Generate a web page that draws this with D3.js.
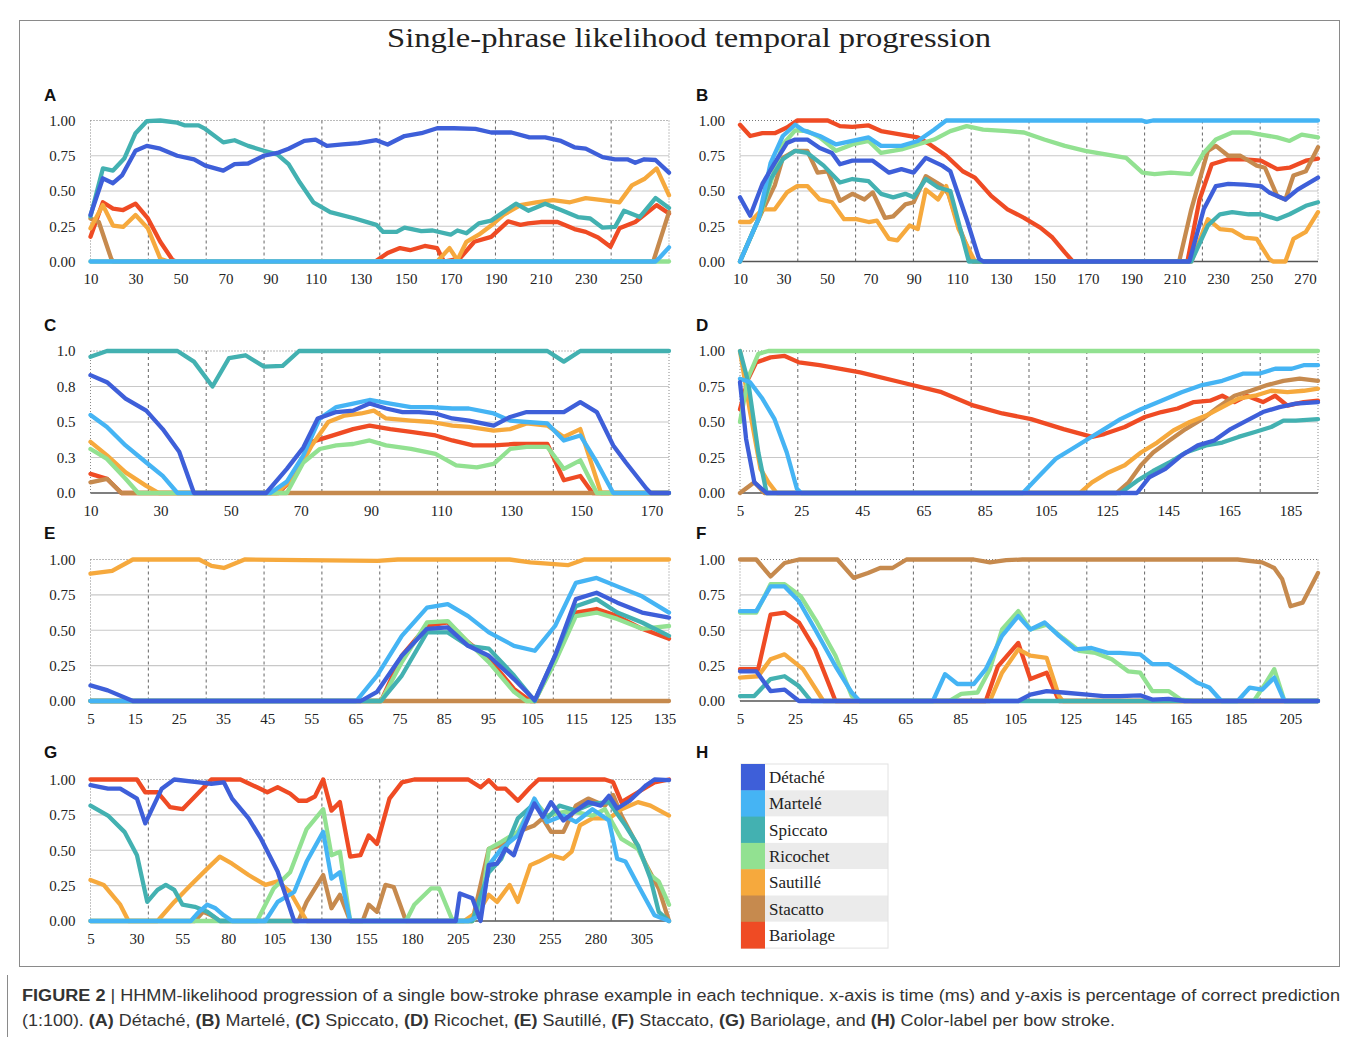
<!DOCTYPE html>
<html>
<head>
<meta charset="utf-8">
<script src="https://cdn.jsdelivr.net/npm/d3@7"></script>
<style>
  body { margin: 0; background: #fff; }
  text { font-family: "Liberation Serif", "Times New Roman", serif; }
</style>
</head>
<body>
<svg id="fig" width="1358" height="1037"></svg>
<script>
const techniques = ["Détaché", "Martelé", "Spiccato", "Ricochet", "Sautillé", "Stacatto", "Bariolage"];
const colors = ["#3e5fd9", "#45b4f4", "#43b1b1", "#92e191", "#f6a93d", "#c68a4e", "#ef4b24"];
const yValues = [0, 0.25, 0.5, 0.75, 1];
const yLabels2 = ["0.00", "0.25", "0.50", "0.75", "1.00"];
const yLabels1 = ["0.0", "0.3", "0.5", "0.8", "1.0"];

// ---- A : Détaché
const aTicks = [10, 30, 50, 70, 90, 110, 130, 150, 170, 190, 210, 230, 250];
const aDomain = [10, 267];
const aDetache = [[10,.33],[15.5,.59],[20,.555],[24,.61],[30,.785],[35,.82],[41,.80],[48.5,.75],[56,.725],[61,.68],[69,.645],[74,.69],[80,.695],[87,.75],[93,.77],[98,.80],[105,.855],[110,.865],[115,.82],[122,.83],[129,.84],[137,.86],[142,.83],[149.5,.89],[157,.91],[164,.945],[171.5,.945],[181,.94],[188,.915],[197,.915],[205,.88],[212,.88],[219,.855],[225,.81],[230,.80],[237.5,.74],[243,.725],[248.5,.725],[252,.70],[256,.725],[261,.72],[267,.63]];
const aMartele = [[10,0],[261,0],[263,.03],[267,.10]];
const aSpiccato = [[10,.32],[15.5,.66],[20,.645],[25,.73],[30,.91],[35,.995],[41,1],[48.5,.985],[52,.965],[58,.965],[61,.94],[69,.845],[74,.86],[80,.82],[87,.785],[93,.76],[98,.69],[103,.56],[109,.42],[116.5,.35],[127.5,.305],[137,.26],[140,.21],[146,.21],[149.5,.24],[157,.215],[162,.22],[170,.19],[173,.22],[177,.20],[182.5,.27],[188,.29],[193.5,.35],[199,.41],[204.5,.36],[212,.41],[219,.365],[226.5,.315],[232,.305],[237.5,.24],[243,.245],[247,.36],[254,.315],[261,.45],[267,.38]];
const aRicochet = [[10,0],[267,0]];
const aSautille = [[10,.235],[15.5,.40],[20,.255],[24.5,.245],[30,.33],[35.5,.235],[41,.02],[44.5,0],[164,0],[169.5,.095],[173,.01],[177,.14],[182.5,.19],[188,.255],[193.5,.33],[201,.40],[208,.42],[215.5,.435],[223,.42],[230,.45],[237.5,.435],[245,.42],[250.5,.54],[256,.585],[261.5,.66],[267,.47]];
const aStacatto = [[10,.305],[13.7,.28],[19.2,.02],[20,0],[260,0],[267,.35]];
const aBariolage = [[10,.175],[15.5,.42],[20,.375],[24.5,.365],[30,.41],[35.5,.305],[41,.14],[46.5,.01],[48,0],[136.5,0],[142,.06],[147.5,.095],[152,.08],[158.5,.11],[164,.095],[167,0],[174,.02],[180.5,.14],[188,.175],[195.5,.285],[201,.26],[204.5,.27],[210,.28],[217.5,.28],[225,.23],[230,.21],[235.5,.17],[241,.105],[245,.235],[252,.28],[261.5,.40],[267,.34]];

// ---- B : Martelé
const bTicks = [10, 30, 50, 70, 90, 110, 130, 150, 170, 190, 210, 230, 250, 270];
const bDomain = [10, 276];
const bDetache = [[10,.455],[14.7,.325],[20.3,.55],[26,.70],[31.6,.84],[35.4,.865],[41,.865],[46.7,.805],[52.3,.77],[56,.69],[61.7,.715],[71.1,.715],[78.6,.63],[84.3,.655],[89.9,.63],[95.5,.735],[103.1,.68],[106.8,.64],[114.3,.30],[120,.02],[122,0],[216.8,0],[223.4,.37],[229,.535],[234.7,.55],[242.2,.545],[249.7,.535],[253.5,.49],[261,.44],[266.6,.51],[276,.595]];
const bMartele = [[10,0],[18.5,.30],[24.1,.70],[29.7,.89],[35.4,.97],[39.1,.93],[46.7,.89],[54.2,.83],[61.7,.855],[69.2,.88],[74.9,.82],[84.3,.82],[91.8,.855],[99.3,.935],[104.9,1],[195,1],[197,.99],[200,1],[276,1]];
const bSpiccato = [[10,0],[18.5,.30],[24.1,.585],[29.7,.725],[35.4,.785],[41,.77],[48.5,.68],[56,.56],[61.7,.585],[69.2,.57],[74.9,.48],[80.5,.455],[86.1,.48],[89.9,.455],[95.5,.585],[101.2,.525],[106.8,.50],[115.3,0],[217.7,0],[225.3,.255],[230.9,.335],[236.5,.35],[244.1,.335],[249.7,.335],[257.2,.30],[262.9,.335],[270.4,.395],[276,.42]];
const bRicochet = [[10,0],[18.5,.30],[24.1,.56],[29.7,.83],[35.4,.93],[41,.925],[46.7,.88],[54.2,.785],[61.7,.83],[69.2,.855],[74.9,.77],[84.3,.795],[91.8,.83],[99.3,.865],[106.8,.925],[114.3,.96],[121.9,.935],[133.1,.925],[140.7,.915],[150,.865],[159.5,.82],[168.9,.785],[178.3,.76],[187.7,.735],[195.2,.63],[200.8,.62],[208.3,.63],[217.7,.62],[223.4,.77],[229,.865],[236.5,.915],[244.1,.915],[249.7,.90],[257.2,.88],[262.9,.855],[268.5,.90],[276,.88]];
const bSautille = [[10,.28],[14.7,.28],[20.3,.37],[26,.37],[31.6,.49],[36.3,.535],[41,.535],[46.7,.44],[52.3,.42],[57.9,.30],[63.6,.30],[69.2,.28],[73,.29],[78.6,.16],[82.4,.15],[88,.255],[91.8,.23],[95.5,.51],[101.2,.44],[104.9,.535],[110.6,.23],[118.1,0],[217.7,0],[225.3,.30],[230.9,.23],[236.5,.22],[242.2,.17],[247.8,.16],[253.5,.02],[255.3,0],[261,0],[264.7,.16],[270.4,.21],[276,.35]];
const bStacatto = [[10,0],[18.5,.30],[26,.54],[29.7,.735],[35.4,.785],[41,.785],[45.7,.63],[50.4,.64],[56,.43],[61.7,.48],[67.3,.44],[71.1,.49],[76.7,.31],[80.5,.32],[86.1,.405],[89.9,.42],[95.5,.605],[103.1,.535],[105.9,.48],[110.6,.255],[117.2,0],[212.1,0],[217.7,.37],[225.3,.785],[229,.82],[234.7,.75],[240.3,.75],[247.8,.68],[251.6,.665],[257.2,.465],[261,.44],[264.7,.61],[270.4,.64],[276,.81]];
const bBariolage = [[10,.97],[14.7,.89],[20.3,.91],[26,.91],[31.6,.95],[36.3,1],[50.4,1],[56,.96],[61.7,.955],[69.2,.965],[74.9,.925],[84.3,.90],[91.8,.88],[97.4,.83],[104.9,.75],[112.5,.64],[118.1,.595],[125.6,.465],[133.1,.37],[140.7,.31],[148.2,.24],[153.8,.17],[159.5,.065],[163.2,0],[215.9,0],[221.5,.44],[227.1,.69],[234.7,.725],[242.2,.725],[249.7,.715],[257.2,.655],[262.9,.665],[270.4,.715],[276,.73]];

// ---- C : Spiccato
const cTicks = [10, 30, 50, 70, 90, 110, 130, 150, 170];
const cDomain = [10, 175];
const cDetache = [[10,.83],[14.7,.78],[20,.665],[25.9,.58],[30.6,.45],[35.3,.29],[39.5,0],[60.1,0],[66,.17],[70.7,.32],[74.8,.525],[80.1,.57],[84.9,.58],[89.6,.63],[94.3,.595],[99,.57],[103.7,.57],[108.4,.56],[113.2,.525],[117.9,.51],[125,.475],[129.7,.535],[134.4,.57],[140.3,.57],[145,.57],[149.7,.64],[154.4,.57],[159.1,.335],[162.7,.215],[168.6,.03],[169.8,0],[175,0]];
const cMartele = [[10,.55],[14.7,.465],[20,.335],[25.9,.215],[30.6,.12],[34.8,0],[61.3,0],[66,.08],[70.7,.265],[75.4,.525],[80.1,.605],[84.9,.63],[89.6,.655],[95.5,.63],[101.4,.605],[107.3,.605],[113.2,.595],[117.9,.595],[125,.56],[129.7,.51],[134.4,.50],[140.3,.49],[145,.37],[149.7,.405],[154.4,.215],[159.1,0],[175,0]];
const cSpiccato = [[10,.96],[14.7,1],[34.8,1],[39.5,.925],[44.8,.75],[49.5,.95],[54.2,.97],[59.5,.89],[64.8,.895],[69.5,1],[140.3,1],[145,.925],[149.7,1],[175,1]];
const cRicochet = [[10,.31],[14.7,.24],[20,.10],[23.6,0],[66,0],[70.7,.215],[75.4,.31],[80.1,.335],[84.9,.345],[89.6,.37],[94.3,.335],[101.4,.31],[108.4,.275],[114.3,.195],[120.2,.18],[125,.205],[129.7,.31],[134.4,.325],[140.3,.325],[145,.17],[149.7,.23],[154.4,0],[175,0]];
const cSautille = [[10,.36],[14.7,.265],[20,.145],[25.9,.05],[29.5,0],[63.1,0],[68.4,.12],[73.1,.335],[77.8,.50],[82.5,.545],[87.2,.56],[90.8,.58],[94.3,.525],[101.4,.51],[107.3,.50],[113.2,.475],[117.9,.465],[125,.44],[129.7,.45],[134.4,.49],[140.3,.475],[145,.395],[149.7,.45],[155.6,0],[175,0]];
const cStacatto = [[10,.075],[14.7,.10],[18.8,0],[175,0]];
const cBariolage = [[10,.135],[14.7,.10],[18.8,0],[63.6,0],[68.4,.12],[73.1,.36],[77.8,.395],[84.9,.45],[89.6,.475],[95.5,.45],[101.4,.43],[108.4,.405],[113.2,.37],[119.1,.335],[125,.335],[130.8,.345],[140.3,.345],[145,.09],[149.7,.12],[153.2,0],[175,0]];

// ---- D : Ricochet
const dTicks = [5, 25, 45, 65, 85, 105, 125, 145, 165, 185];
const dDomain = [5, 194];
const dDetache = [[5,.78],[7,.38],[9.7,.075],[13.7,0],[134.8,0],[138.8,.11],[144.1,.17],[149.4,.265],[154.7,.335],[160.1,.37],[165.4,.45],[170.7,.51],[176,.57],[181.4,.605],[186.7,.63],[194,.64]];
const dMartele = [[5,.805],[8.3,.78],[12.3,.665],[16.3,.52],[20.3,.285],[23.6,.03],[25,0],[97.5,0],[102.8,.12],[108.2,.24],[113.5,.31],[118.8,.38],[124.1,.45],[129.4,.52],[136.1,.59],[142.8,.65],[149.4,.71],[156.1,.76],[162.7,.79],[169.4,.84],[174.7,.84],[180,.875],[185.4,.875],[189.3,.90],[194,.90]];
const dSpiccato = [[5,1],[7.7,.78],[11,.285],[13.7,0],[129.4,0],[134.8,.085],[140.1,.155],[145.4,.215],[150.7,.285],[157.4,.335],[162.7,.355],[168,.395],[173.4,.43],[178.7,.465],[182.7,.51],[186.7,.51],[194,.52]];
const dRicochet = [[5,.5],[7.7,.815],[11,.98],[14.3,1],[194,1]];
const dSautille = [[5,1],[8.3,.57],[11.7,.17],[14.3,.075],[17,0],[116.1,0],[120.1,.075],[125.5,.145],[130.8,.195],[136.1,.285],[141.4,.355],[146.7,.44],[152.1,.50],[157.4,.545],[162.7,.605],[168,.665],[173.4,.685],[178.7,.72],[184,.71],[189.3,.72],[194,.735]];
const dStacatto = [[5,0],[9.7,.075],[13,0],[128.1,0],[132.1,.075],[136.1,.195],[140.1,.285],[145.4,.37],[150.7,.45],[156.1,.52],[161.4,.605],[166.7,.685],[172,.72],[177.4,.76],[182.7,.79],[188,.805],[194,.79]];
const dBariolage = [[5,.59],[7.7,.805],[10.3,.92],[15,.955],[19.6,.965],[24.3,.92],[31,.90],[44.3,.85],[57.6,.78],[70.9,.71],[81.5,.615],[90.8,.56],[100.2,.52],[110.8,.45],[120.1,.395],[124.1,.415],[130.8,.465],[137.4,.535],[142.8,.57],[148.1,.595],[153.4,.64],[158.7,.65],[162.7,.685],[166.7,.64],[170.7,.685],[176,.64],[180,.685],[184,.615],[189.3,.64],[194,.65]];

// ---- E : Sautillé
const eTicks = [5, 15, 25, 35, 45, 55, 65, 75, 85, 95, 105, 115, 125, 135];
const eDomain = [5, 136];
const eDetache = [[5,.11],[8.9,.075],[14.6,0],[66.2,0],[69.9,.065],[75.5,.32],[81.2,.51],[85.9,.52],[90.5,.39],[95.2,.32],[100.9,.155],[105.6,.005],[110.2,.32],[114.9,.72],[119.6,.765],[124.3,.695],[129.9,.625],[136,.59]];
const eMartele = [[5,0],[65.2,0],[69.9,.18],[75.5,.46],[81.2,.66],[85.9,.685],[90.5,.60],[95.2,.485],[100.9,.39],[105.6,.355],[110.2,.53],[114.9,.835],[119.6,.87],[124.3,.81],[129.9,.74],[136,.625]];
const eSpiccato = [[5,0],[70.8,0],[75.5,.18],[81.2,.485],[85.9,.485],[90.5,.39],[95.2,.37],[100.9,.18],[105.6,0],[110.2,.32],[114.9,.67],[119.6,.72],[124.3,.625],[129.9,.555],[136,.46]];
const eRicochet = [[5,0],[70.8,0],[75.5,.275],[81.2,.555],[85.9,.565],[90.5,.415],[95.2,.275],[100.9,.065],[103.7,0],[105.6,0],[110.2,.275],[114.9,.60],[119.6,.625],[124.3,.58],[129.9,.51],[136,.53]];
const eSautille = [[5,.90],[9.9,.92],[14.6,1],[29.6,1],[32.4,.955],[35.2,.94],[39.9,1],[70,.99],[74.6,1],[99.9,1],[104.6,.98],[113.1,.96],[116.8,1],[136,1]];
const eStacatto = [[5,0],[136,0]];
const eBariolage = [[5,0],[70.8,0],[75.5,.32],[81.2,.53],[85.9,.555],[90.5,.415],[95.2,.30],[100.9,.085],[104.6,0],[105.6,0],[110.2,.30],[114.9,.625],[119.6,.65],[124.3,.60],[129.9,.51],[136,.44]];

// ---- F : Staccato
const fTicks = [5, 25, 45, 65, 85, 105, 125, 145, 165, 185, 205];
const fDomain = [5, 215];
const fDetache = [[5,.21],[10.9,.21],[16.1,.07],[21.2,.08],[26.4,0],[106.1,0],[110.5,.045],[116.4,.07],[122.3,.06],[131.2,.045],[137.1,.035],[143,.035],[150.4,.04],[154.8,.01],[160.7,.015],[166.6,0],[215,0]];
const fMartele = [[5,.635],[10.9,.635],[16.1,.81],[21.2,.81],[26.4,.705],[32.3,.505],[39.7,.245],[45.6,.06],[48.5,0],[75.1,0],[79.5,.19],[84,.12],[89.9,.12],[94.3,.225],[100.2,.46],[106.1,.60],[110.5,.505],[115.7,.555],[120.9,.46],[126.8,.365],[132.7,.375],[138.6,.34],[143,.34],[150.4,.33],[154.8,.26],[160.7,.26],[166.6,.19],[171,.13],[175.5,.095],[179.9,0],[185.8,0],[190.2,.095],[194.7,.08],[199.1,.165],[202.8,0],[215,0]];
const fSpiccato = [[5,.035],[10.2,.035],[16.1,.155],[21.2,.175],[26.4,.105],[30.8,0],[215,0]];
const fRicochet = [[5,.625],[10.9,.625],[16.1,.825],[21.2,.825],[27.1,.74],[33,.555],[39.7,.32],[45.6,.035],[48.5,0],[81,0],[85.4,.05],[91.3,.06],[95.8,.225],[100.2,.505],[106.1,.635],[110.5,.505],[116.4,.54],[122.3,.445],[128.2,.355],[134.2,.34],[140.1,.295],[146,.21],[150.4,.20],[154.8,.07],[160.7,.07],[165.1,.01],[169.6,0],[191.7,0],[196.1,.13],[199.1,.225],[202.8,0],[215,0]];
const fSautille = [[5,.165],[11.6,.175],[16.1,.295],[21.2,.33],[27.9,.225],[35.3,0],[95.8,0],[100.2,.20],[106.1,.365],[110.5,.32],[116.4,.305],[120.9,.035],[122.3,0],[215,0]];
const fStacatto = [[5,1],[10.9,1],[16.1,.88],[21.2,.975],[26.4,1],[40.4,1],[46.3,.87],[51.5,.905],[55.9,.94],[60.4,.94],[65.5,1],[89.9,1],[95.8,.98],[101.7,.995],[107.6,1],[185.8,1],[194.7,.98],[199.1,.94],[202,.86],[205,.67],[209.4,.695],[215,.905]];
const fBariolage = [[5,.225],[11.6,.225],[16.1,.61],[21.2,.625],[26.4,.555],[32.3,.365],[39.7,0],[94.3,0],[98.7,.245],[106.1,.41],[110.5,.155],[116.4,.20],[120.9,0],[215,0]];

// ---- G : Bariolage
const gTicks = [5, 30, 55, 80, 105, 130, 155, 180, 205, 230, 255, 280, 305];
const gDomain = [5, 320];
const gDetache = [[5,.96],[14.5,.935],[21.2,.935],[30.3,.865],[34.8,.69],[43.8,.935],[50.6,1],[64.1,.98],[70.8,.97],[77.6,.98],[82.1,.865],[91.1,.725],[97.9,.58],[106.9,.35],[115.9,0],[203.9,0],[206.1,.195],[212.9,.16],[217.4,0],[221.9,.395],[226.4,.405],[231,.51],[235.5,.465],[240,.63],[246.7,.83],[251.2,.735],[255.8,.84],[262.5,.71],[269.3,.78],[276,.84],[282.8,.815],[287.3,.885],[291.8,.795],[298.6,.85],[307.6,.96],[312.1,1],[320,.995]];
const gMartele = [[5,0],[59.6,0],[64.1,.065],[68.6,.115],[73.1,.09],[77.6,.04],[82.1,0],[100.2,0],[106.9,.135],[115.9,.205],[122.7,.42],[131.7,.63],[136.2,.30],[140.8,.345],[146.4,0],[210.7,0],[217.4,.04],[221.9,.395],[228.7,.51],[237.7,.605],[246.7,.865],[253.5,.70],[262.5,.745],[269.3,.70],[278.3,.79],[287.3,.71],[291.8,.44],[296.3,.42],[303.1,.255],[312.1,.04],[320,0]];
const gSpiccato = [[5,.815],[14.5,.745],[23.5,.63],[30.3,.465],[35.9,.135],[41.5,.22],[46,.255],[50.6,.22],[55.1,.115],[61.8,.10],[68.6,.065],[75.4,0],[212.9,0],[221.9,.345],[228.7,.44],[237.7,.725],[246.7,.83],[253.5,.725],[260.3,.815],[269.3,.78],[278.3,.83],[287.3,.84],[296.3,.675],[303.1,.535],[309.9,.30],[314.4,.065],[320,0]];
const gRicochet = [[5,0],[95.7,0],[104.7,.23],[113.7,.345],[122.7,.65],[131.7,.79],[136.2,.465],[140.8,.49],[146.4,0],[176.8,0],[181.3,.115],[190.4,.23],[194.9,.23],[201.6,.02],[203.9,0],[212.9,0],[217.4,.065],[221.9,.51],[228.7,.56],[237.7,.63],[246.7,.85],[253.5,.745],[262.5,.77],[269.3,.77],[278.3,.745],[285.1,.79],[294.1,.58],[303.1,.51],[309.9,.325],[314.4,.28],[320,.115]];
const gSautille = [[5,.29],[12.2,.255],[21.2,.115],[25.7,0],[41.5,0],[50.6,.135],[59.6,.255],[68.6,.37],[75.4,.455],[82.1,.405],[91.1,.325],[100.2,.255],[106.9,.28],[113.7,.205],[122.7,0],[208.4,0],[212.9,.04],[217.4,.09],[221.9,.185],[226.4,.135],[233.2,.255],[237.7,.135],[244.5,.395],[249,.42],[255.8,.465],[262.5,.44],[267,.49],[271.5,.675],[278.3,.725],[287.3,.725],[294.1,.79],[303.1,.84],[309.9,.815],[320,.745]];
const gStacatto = [[5,0],[61.8,0],[66.3,.065],[70.8,.04],[75.4,0],[118.2,0],[122.7,.135],[131.7,.325],[136.2,.09],[140.8,.185],[146.4,0],[153.2,0],[156.5,.115],[161,.065],[165.6,.255],[170.1,.24],[176.8,0],[212.9,0],[221.9,.51],[228.7,.535],[237.7,.63],[246.7,.675],[251.2,.725],[255.8,.63],[262.5,.63],[269.3,.815],[276,.865],[285.1,.815],[289.6,.89],[294.1,.745],[300.9,.58],[307.6,.395],[314.4,.23],[320,0]];
const gBariolage = [[5,1],[30.3,1],[34.8,.91],[41.5,.91],[48.3,.805],[55.1,.79],[64.1,.91],[70.8,1],[86.6,1],[95.7,.945],[101.3,.91],[106.9,.945],[113.7,.90],[118.2,.85],[122.7,.85],[127.2,.88],[131.7,1],[136.2,.78],[140.8,.84],[146.4,.455],[152,.465],[156.5,.605],[161,.545],[167.8,.865],[174.6,.98],[181.3,1],[210.7,1],[217.4,.945],[221.9,.995],[226.4,.935],[231,.935],[237.7,.85],[244.5,.945],[249,1],[285.1,1],[289.6,.98],[294.1,.84],[303.1,.91],[312.1,.98],[320,1]];

const svg = d3.select("#fig");

// frame + title
svg.append("rect").attr("x", 19.5).attr("y", 20.5).attr("width", 1320).attr("height", 946)
  .attr("fill", "none").attr("stroke", "#8a8a8a");
svg.append("line").attr("x1", 7.5).attr("x2", 7.5).attr("y1", 975).attr("y2", 1037)
  .attr("stroke", "#8a8a8a");
svg.append("text").attr("x", 689).attr("y", 47).attr("text-anchor", "middle")
  .attr("font-size", 28).attr("fill", "#222")
  .attr("textLength", 604).attr("lengthAdjust", "spacingAndGlyphs")
  .text("Single-phrase likelihood temporal progression");

const cols = [{ x0: 90.5, x1: 669, lx: 44 }, { x0: 740, x1: 1318, lx: 696 }];
const rows = [{ y0: 120.5, y1: 261.5, ly: 101 }, { y0: 351, y1: 493, ly: 331 },
              { y0: 559.5, y1: 701, ly: 539 }, { y0: 779.5, y1: 921, ly: 758 }];

const panels = [
  { id: "A", col: 0, row: 0, domain: aDomain, ticks: aTicks, yl: yLabels2, s: [aDetache, aMartele, aSpiccato, aRicochet, aSautille, aStacatto, aBariolage] },
  { id: "B", col: 1, row: 0, domain: bDomain, ticks: bTicks, yl: yLabels2, s: [bDetache, bMartele, bSpiccato, bRicochet, bSautille, bStacatto, bBariolage] },
  { id: "C", col: 0, row: 1, domain: cDomain, ticks: cTicks, yl: yLabels1, s: [cDetache, cMartele, cSpiccato, cRicochet, cSautille, cStacatto, cBariolage] },
  { id: "D", col: 1, row: 1, domain: dDomain, ticks: dTicks, yl: yLabels2, s: [dDetache, dMartele, dSpiccato, dRicochet, dSautille, dStacatto, dBariolage] },
  { id: "E", col: 0, row: 2, domain: eDomain, ticks: eTicks, yl: yLabels2, s: [eDetache, eMartele, eSpiccato, eRicochet, eSautille, eStacatto, eBariolage] },
  { id: "F", col: 1, row: 2, domain: fDomain, ticks: fTicks, yl: yLabels2, s: [fDetache, fMartele, fSpiccato, fRicochet, fSautille, fStacatto, fBariolage] },
  { id: "G", col: 0, row: 3, domain: gDomain, ticks: gTicks, yl: yLabels2, s: [gDetache, gMartele, gSpiccato, gRicochet, gSautille, gStacatto, gBariolage] }
];

function panelLetter(id, c, r) {
  svg.append("text").attr("x", cols[c].lx).attr("y", rows[r].ly)
    .style("font-family", "'Liberation Sans', Arial, sans-serif")
    .attr("font-weight", "bold").attr("font-size", 17).attr("fill", "#111").text(id);
}

panels.forEach(p => {
  const c = cols[p.col], r = rows[p.row];
  const x = d3.scaleLinear().domain(p.domain).range([c.x0, c.x1]);
  const y = d3.scaleLinear().domain([0, 1]).range([r.y1, r.y0]);
  const grid = d3.scaleLinear().domain([0, 10]).range([c.x0, c.x1]);
  const g = svg.append("g");

  panelLetter(p.id, p.col, p.row);

  g.selectAll(".hg").data([0.25, 0.5, 0.75]).join("line")
    .attr("x1", c.x0).attr("x2", c.x1).attr("y1", d => y(d)).attr("y2", d => y(d))
    .attr("stroke", "#c8c8c8").attr("stroke-width", 1.2);
  g.selectAll(".vg").data(d3.range(1, 10)).join("line")
    .attr("x1", d => grid(d)).attr("x2", d => grid(d)).attr("y1", r.y0).attr("y2", r.y1)
    .attr("stroke", "#555").attr("stroke-width", 0.9).attr("stroke-dasharray", "3,3");
  g.selectAll(".edge").data([0, 10]).join("line")
    .attr("x1", d => grid(d)).attr("x2", d => grid(d)).attr("y1", r.y0).attr("y2", r.y1)
    .attr("stroke", "#888").attr("stroke-width", 1).attr("stroke-dasharray", "1,2");
  g.append("line").attr("x1", c.x0).attr("x2", c.x1).attr("y1", y(1)).attr("y2", y(1))
    .attr("stroke", "#777").attr("stroke-dasharray", "1,2");
  g.append("line").attr("x1", c.x0).attr("x2", c.x1).attr("y1", y(0)).attr("y2", y(0))
    .attr("stroke", "#555").attr("stroke-width", 1.5);

  g.append("g").attr("transform", `translate(0,${r.y1})`)
    .call(d3.axisBottom(x).tickValues(p.ticks).tickSize(0).tickPadding(12).tickFormat(d3.format("d")))
    .call(a => a.select(".domain").remove());
  g.append("g").attr("transform", `translate(${c.x0},0)`)
    .call(d3.axisLeft(y).tickValues(yValues).tickSize(0).tickPadding(15).tickFormat((d, i) => p.yl[i]))
    .call(a => a.select(".domain").remove());
  g.selectAll(".tick text").attr("font-family", "'Liberation Serif', serif")
    .attr("font-size", 15).attr("fill", "#222");

  const line = d3.line().x(d => x(d[0])).y(d => y(d[1]));
  // drawn from last legend entry to first, so Détaché ends on top
  const order = d3.range(techniques.length).reverse();
  g.selectAll(".series").data(order).join("path")
    .attr("d", i => line(p.s[i]))
    .attr("fill", "none").attr("stroke", i => colors[i])
    .attr("stroke-width", 4.3).attr("stroke-linejoin", "round").attr("stroke-linecap", "round");
});

// H legend
panelLetter("H", 1, 3);
const lg = svg.append("g");
const rowH = 26.3, lgTop = 764, lgX = 741;
lg.selectAll(".bg").data(techniques).join("rect")
  .attr("x", lgX + 24).attr("y", (d, i) => lgTop + i * rowH).attr("width", 123).attr("height", rowH)
  .attr("fill", (d, i) => i % 2 ? "#ebebeb" : "#fff");
lg.append("rect").attr("x", lgX).attr("y", lgTop).attr("width", 147).attr("height", rowH * 7)
  .attr("fill", "none").attr("stroke", "#e2e2e2");
lg.selectAll(".sw").data(techniques).join("rect")
  .attr("x", lgX).attr("y", (d, i) => lgTop + i * rowH).attr("width", 24).attr("height", rowH + 0.5)
  .attr("fill", (d, i) => colors[i]);
lg.selectAll(".lt").data(techniques).join("text")
  .attr("x", lgX + 28).attr("y", (d, i) => lgTop + i * rowH + 19)
  .attr("font-size", 17).attr("fill", "#222").text(d => d);

// caption
const caption = [
  [["FIGURE 2", true], [" | HHMM-likelihood progression of a single bow-stroke phrase example in each technique. x-axis is time (ms) and y-axis is percentage of correct prediction", false]],
  [["(1:100). ", false], ["(A)", true], [" Détaché, ", false], ["(B)", true], [" Martelé, ", false], ["(C)", true], [" Spiccato, ", false], ["(D)", true], [" Ricochet, ", false], ["(E)", true], [" Sautillé, ", false], ["(F)", true], [" Staccato, ", false], ["(G)", true], [" Bariolage, and ", false], ["(H)", true], [" Color-label per bow stroke.", false]]
];
const capWidths = [1318, 1093];
caption.forEach((parts, li) => {
  const t = svg.append("text").attr("x", 22).attr("y", 1001 + li * 25)
    .style("font-family", "'Liberation Sans', Arial, sans-serif")
    .attr("font-size", 16).attr("fill", "#333")
    .attr("textLength", capWidths[li]).attr("lengthAdjust", "spacingAndGlyphs");
  parts.forEach(([s, b]) => t.append("tspan").attr("font-weight", b ? "bold" : null).text(s));
});
</script>
</body>
</html>
